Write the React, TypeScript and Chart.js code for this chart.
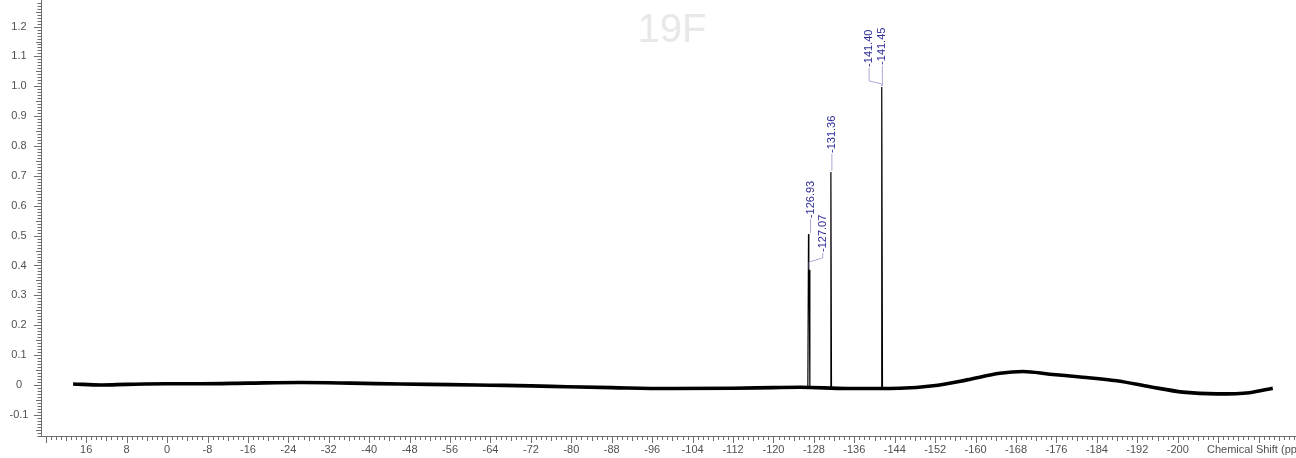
import React, { useEffect, useRef } from "react";
import { Chart, registerables } from "chart.js";

Chart.register(...registerables);

// ---------- data ----------
const baselineShift = [
  18.6, 13, 8, 0, -6.7, -16, -26.5, -36.4, -46.2, -56, -64, -72, -79.2, -88, -99, -112, -120,
  -125.3, -134.6, -145, -151.6, -158.3, -164.8, -169.4, -174.7, -181.2, -187.9, -194.5, -201,
  -207.7, -214.2, -218.8,
];
const baselineIntensity = [
  0.003, 0.0, 0.002, 0.004, 0.004, 0.006, 0.008, 0.006, 0.003, 0.001, -0.001, -0.003, -0.006,
  -0.009, -0.012, -0.011, -0.009, -0.008, -0.012, -0.011, -0.003, 0.017, 0.039, 0.045, 0.036,
  0.026, 0.014, -0.006, -0.024, -0.03, -0.026, -0.011,
];

const peakShift = [
  -126.8, -126.93, -127.0, -127.07, -127.2, -129.0, -131.24, -131.36, -131.48, -136.0, -141.28,
  -141.4, -141.45, -141.57,
];
const peakIntensity = [
  -0.008, 0.505, 0.33, 0.385, -0.008, null, -0.009, 0.713, -0.01, null, -0.011, 0.992, 0.998,
  -0.011,
];

const peakLabels = ["-126.93", "-127.07", "-131.36", "-141.40", "-141.45"];
const peakLabelShift = [-126.93, -127.07, -131.36, -141.4, -141.45];
const peakLabelApex = [0.505, 0.385, 0.713, 0.998, 0.998];

const xTickValues = [
  16, 8, 0, -8, -16, -24, -32, -40, -48, -56, -64, -72, -80, -88, -96, -104, -112, -120, -128,
  -136, -144, -152, -160, -168, -176, -184, -192, -200,
];
const xTickLabels = xTickValues.map((v) => String(v));
const yTickValues = [-0.1, 0, 0.1, 0.2, 0.3, 0.4, 0.5, 0.6, 0.7, 0.8, 0.9, 1.0, 1.1, 1.2, 1.3];
const yTickLabels = ["-0.1", "0", "0.1", "0.2", "0.3", "0.4", "0.5", "0.6", "0.7", "0.8", "0.9", "1.0", "1.1", "1.2", "1.3"];

const titleText = "19F";
const xAxisTitle = "Chemical Shift (ppm)";

// ---------- layout / style ----------
const X_MAX = 24.95;
const X_MIN = -223.4;
const Y_MIN = -0.171;
const Y_MAX = 1.289;

// label layout in pixels relative to peak apex
const LABEL_DX = [2, 13.5, 1, -12.5, 0.5];
const LABEL_GAP = [16, 18, 19, 20, 22];
const LABEL_BEND1 = [0, 12, 0, 6, 0];
const LABEL_BEND2 = [0, 8, 0, 3, 0];

const FONT = "'Liberation Sans', Arial, sans-serif";
const AXIS_COLOR = "#6e6e6e";
const TICK_TEXT = "#505050";
const LABEL_COLOR = "#2d2d96";
const CONNECTOR_COLOR = "#a9a9d6";

const nmrPlugin = {
  id: "nmrDecor",
  beforeDatasetsDraw(chart: any) {
    const ctx = chart.ctx;
    ctx.save();
    ctx.fillStyle = "#e8e8e8";
    ctx.font = `40px ${FONT}`;
    ctx.textAlign = "center";
    ctx.textBaseline = "alphabetic";
    ctx.fillText(titleText, 672, 42);
    ctx.restore();
  },
  afterDraw(chart: any) {
    const ctx = chart.ctx;
    const xs = chart.scales.x;
    const ys = chart.scales.y;
    const area = chart.chartArea;
    ctx.save();

    // axis lines
    ctx.fillStyle = AXIS_COLOR;
    const axX = Math.round(area.left);
    const axY = Math.round(area.bottom);
    ctx.fillRect(axX, 0, 1, axY + 1);
    ctx.fillRect(axX, axY, area.right - axX, 1);

    // y ticks every 0.01
    for (let i = Math.ceil(Y_MIN * 100); i <= Math.floor(Y_MAX * 100); i++) {
      const y = Math.round(ys.getPixelForValue(i / 100));
      let len = 3.5;
      if (i % 10 === 0) len = 7;
      else if (i % 5 === 0) len = 5;
      ctx.fillRect(axX - len, y, len, 1);
    }
    // x ticks every 1 ppm
    for (let p = Math.floor(X_MAX); p >= Math.ceil(X_MIN); p--) {
      const x = Math.round(xs.getPixelForValue(p));
      if (x <= axX) continue;
      let len = 3;
      if (p % 8 === 0) len = 6;
      else if (p % 4 === 0) len = 4;
      ctx.fillRect(x, axY + 1, 1, len);
    }

    // tick labels
    ctx.fillStyle = TICK_TEXT;
    ctx.font = `11px ${FONT}`;
    ctx.textAlign = "center";
    ctx.textBaseline = "middle";
    yTickValues.forEach((v, i) => {
      ctx.fillText(yTickLabels[i], 19, ys.getPixelForValue(v));
    });
    xTickValues.forEach((v, i) => {
      ctx.fillText(xTickLabels[i], xs.getPixelForValue(v), 450);
    });
    ctx.textAlign = "left";
    ctx.fillText(xAxisTitle, 1207, 450);

    // peak labels
    peakLabels.forEach((txt, i) => {
      const px = xs.getPixelForValue(peakLabelShift[i]);
      const py = ys.getPixelForValue(peakLabelApex[i]);
      const tx = px + LABEL_DX[i];
      const tb = py - LABEL_GAP[i];
      ctx.strokeStyle = CONNECTOR_COLOR;
      ctx.lineWidth = 1;
      ctx.beginPath();
      ctx.moveTo(tx, tb + 1);
      if (LABEL_BEND1[i] > 0) {
        ctx.lineTo(tx, py - LABEL_BEND1[i]);
        ctx.lineTo(px, py - LABEL_BEND2[i]);
        ctx.lineTo(px, py - 1);
      } else {
        ctx.lineTo(tx, py - 1);
      }
      ctx.stroke();

      ctx.save();
      ctx.translate(tx, tb);
      ctx.rotate(-Math.PI / 2);
      ctx.fillStyle = LABEL_COLOR;
      ctx.font = `11px ${FONT}`;
      ctx.textAlign = "left";
      ctx.textBaseline = "middle";
      ctx.fillText(txt, 0, 0);
      ctx.restore();
    });

    ctx.restore();
  },
};

export default function App() {
  const ref = useRef<HTMLCanvasElement | null>(null);

  useEffect(() => {
    if (!ref.current) return;
    const baseline = baselineShift.map((x, i) => ({ x, y: baselineIntensity[i] }));
    const peaks = peakShift.map((x, i) => ({ x, y: peakIntensity[i] }));
    const chart = new Chart(ref.current, {
      type: "scatter",
      data: {
        datasets: [
          {
            data: baseline as any,
            showLine: true,
            borderColor: "#000000",
            borderWidth: 3.6,
            pointRadius: 0,
            cubicInterpolationMode: "monotone",
          } as any,
          {
            data: peaks as any,
            showLine: true,
            borderColor: "#000000",
            borderWidth: 1.2,
            pointRadius: 0,
            tension: 0,
            spanGaps: false,
          } as any,
        ],
      },
      options: {
        animation: false,
        responsive: false,
        devicePixelRatio: 1,
        layout: { padding: { left: 41, right: 0, top: 0, bottom: 22 } },
        plugins: {
          legend: { display: false },
          tooltip: { enabled: false },
          title: { display: false },
        },
        scales: {
          x: { type: "linear", reverse: true, min: X_MIN, max: X_MAX, display: false },
          y: { type: "linear", min: Y_MIN, max: Y_MAX, display: false },
        },
      },
      plugins: [nmrPlugin],
    });
    return () => chart.destroy();
  }, []);

  return (
    <div style={{ position: "absolute", left: 0, top: 0, width: 1296, height: 458, background: "#ffffff" }}>
      <canvas ref={ref} width={1296} height={458} style={{ display: "block" }} />
    </div>
  );
}
